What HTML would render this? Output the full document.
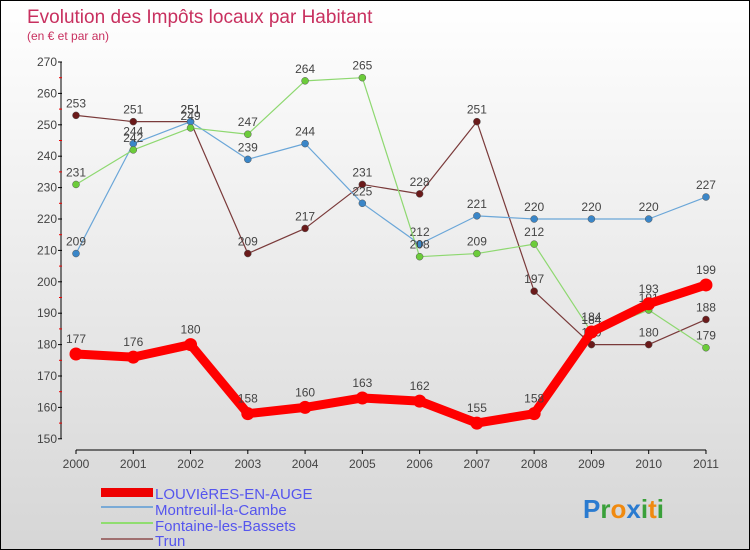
<!DOCTYPE html>
<html><head><meta charset="utf-8"><style>
body{margin:0}
#c{width:750px;height:550px;position:relative;box-sizing:border-box;border:1px solid #000;background:linear-gradient(#fff,#d6d6d6);font-family:"Liberation Sans",sans-serif;overflow:hidden}
</style></head><body>
<div id="c">
<svg width="748" height="548" id="s" style="position:absolute;left:0;top:0">
<text x="26" y="22" font-size="19" fill="#c8305f">Evolution des Impôts locaux par Habitant</text>
<text x="26" y="39" font-size="12" fill="#c8305f">(en € et par an)</text>
<g id="axes"></g><g id="series"></g>
<g font-size="15" fill="#5555ee">
<rect x="100" y="487" width="52" height="9" fill="#e00"/>
<text x="154" y="498">LOUVIèRES-EN-AUGE</text>
<line x1="100" y1="506" x2="152" y2="506" stroke="#7aaad6" stroke-width="2"/>
<text x="154" y="514">Montreuil-la-Cambe</text>
<line x1="100" y1="522" x2="152" y2="522" stroke="#90dd70" stroke-width="2"/>
<text x="154" y="530">Fontaine-les-Bassets</text>
<line x1="100" y1="538" x2="152" y2="538" stroke="#a07070" stroke-width="2"/>
<text x="154" y="545">Trun</text>
</g>
<text x="582" y="517" font-size="26" font-weight="bold"><tspan fill="#2a7bd0">P</tspan><tspan fill="#3aa03a">r</tspan><tspan fill="#f08a10">o</tspan><tspan fill="#2a7bd0">x</tspan><tspan fill="#3aa03a">i</tspan><tspan fill="#f08a10">t</tspan><tspan fill="#3aa03a">i</tspan></text>
</svg></div>
<script>
const years=["2000","2001","2002","2003","2004","2005","2006","2007","2008","2009","2010","2011"];
const yTicks=[150,160,170,180,190,200,210,220,230,240,250,260,270];
const louvieres=[177,176,180,158,160,163,162,155,158,184,193,199];
const montreuil=[209,244,251,239,244,225,212,221,220,220,220,227];
const fontaine=[231,242,249,247,264,265,208,209,212,184,191,179];
const trun=[253,251,251,209,217,231,228,251,197,180,180,188];
const NS="http://www.w3.org/2000/svg";
const X=i=>75+i*57.27, Y=v=>61+(270-v)*3.14;
function mk(t,a,p){const e=document.createElementNS(NS,t);for(const k in a)e.setAttribute(k,a[k]);p.appendChild(e);return e;}
const ax=document.getElementById('axes');
let l=mk('line',{x1:60,y1:Y(270),x2:60,y2:Y(150),stroke:'#000'},ax);


yTicks.forEach(v=>{mk('line',{x1:57,y1:Y(v),x2:61,y2:Y(v),stroke:'#000'},ax);
 if(v<270)mk('line',{x1:58,y1:Y(v+5),x2:61,y2:Y(v+5),stroke:'#e00'},ax);
 const t=mk('text',{x:56,y:Y(v)+4,'text-anchor':'end','font-size':12,fill:'#444'},ax);t.textContent=v;
 
 });
l=mk('line',{x1:75,y1:449,x2:705,y2:449,stroke:'#000'},ax);


years.forEach((y,i)=>{mk('line',{x1:X(i),y1:449,x2:X(i),y2:453,stroke:'#000'},ax);
 const t=mk('text',{x:X(i),y:467,'text-anchor':'middle','font-size':12,fill:'#444'},ax);t.textContent=y;
 
 });
const sg=document.getElementById('series');
function series(d,name,col,dot,w,r){
 const g=mk('g',{},sg);
 
 
 const p=mk('polyline',{points:d.map((v,i)=>X(i)+','+Y(v)).join(' '),fill:'none',stroke:col,'stroke-width':w,'stroke-linejoin':'round'},g);
 
 
 d.forEach((v,i)=>{const c=mk('circle',{cx:X(i),cy:Y(v),r:r,fill:dot,stroke:w>3?'none':'#555','stroke-width':0.5},g);
  
  
  const t=mk('text',{x:X(i),y:Y(v)-(w>3?11:8),'text-anchor':'middle','font-size':12,fill:'#444'},g);t.textContent=v;
  
  });
}
series(trun,'trun','#7a3a3a','#6a1a1a',1.2,3.5);
series(montreuil,'montreuil','#6aa6d8','#3a86c8',1.2,3.5);
series(fontaine,'fontaine','#8ed870','#6ccc3a',1.2,3.5);
series(louvieres,'louvieres','#f00','#f00',9,6.5);
</script>
</body></html>
